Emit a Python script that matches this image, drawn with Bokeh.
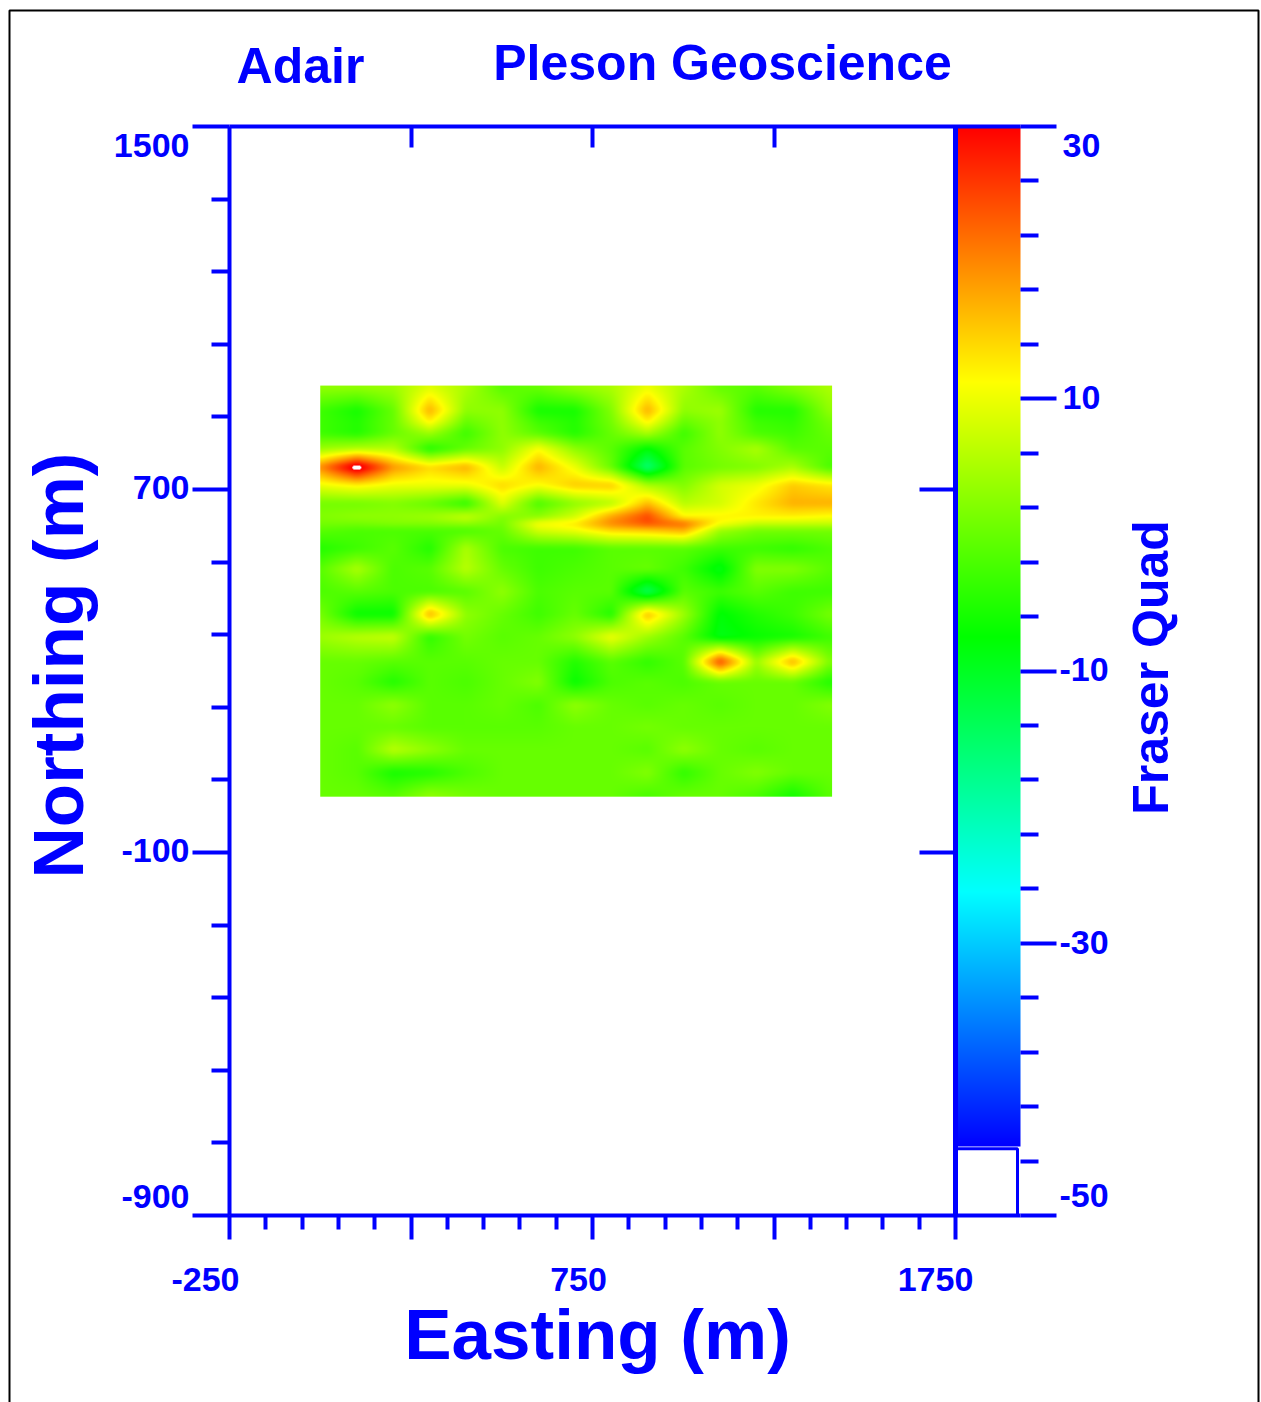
import numpy as np
from bokeh.embed import file_html
from bokeh.resources import INLINE
from bokeh.plotting import figure
from bokeh.models import (LinearAxis, FixedTicker, Range1d, LinearColorMapper, Label,
                          PolyAnnotation)

# ---------- data ----------
title_left = "Adair"
title_right = "Pleson Geoscience"
x_title = "Easting (m)"
y_title = "Northing (m)"
scale_title = "Fraser Quad"

x_major = [-250, 250, 750, 1250, 1750]
x_minor = [-150, -50, 50, 150, 350, 450, 550, 650, 850, 950, 1050, 1150, 1350, 1450, 1550, 1650]
y_major = [1500, 700, -100, -900]
y_minor = [1340, 1180, 1020, 860, 540, 380, 220, 60, -260, -420, -580, -740]
z_major = [30, 10, -10, -30, -50]
z_minor = [26, 22, 18, 14, 6, 2, -2, -6, -14, -18, -22, -26, -34, -38, -42, -46]

x_labels = ["-250", "750", "1750"]
y_labels = ["1500", "700", "-100", "-900"]
z_labels = ["30", "10", "-10", "-30", "-50"]

easting = [0, 100, 200, 300, 400, 500, 600, 700, 800, 900, 1000, 1100, 1200, 1300, 1400]
northing = [925, 875, 850, 825, 790, 750, 710, 670, 640, 625, 610, 570, 525, 475, 425, 375, 320, 275, 225, 175, 125, 75, 25]
fraser = [
    [3, 3, 4, 9, 5, -1, 0, 3, 5, 10, 5, 0, -1, 2, 5],
    [-3, -6, 0, 17, 3, 3, -6, -6, 2, 17, 3, 4, -5, -5, 3],
    [-3, -5, 0, 12, 0, 3, -3, -5, 1, 12, 0, 3, -3, -4, 1],
    [-3, -5, 0, 4, -3, 3, -1, -5, 0, 5, -3, 3, -2, -3, 0],
    [4, 6, 6, -5, 0, 3, 11, 3, -1, -8, -1, 2, 5, -1, -1],
    [20, 34, 19, 14, 17, 7, 17, 10, 0, -16, -1, 1, 2, 5, -2],
    [10, 12, 10, 10, 10, 14, 11, 15, 15, 5, 2, 8, 10, 15, 13],
    [1, 1, 2, 0, -4, 9, -2, 3, 6, 16, 6, 8, 13, 17, 17],
    [2, 3, 3, 4, 7, 2, 3, 8, 18, 25, 12, 12, 12, 12, 11],
    [1, 1, 2, 2, 3, 1, 11, 13, 20, 24, 22, 11, 7, 7, 7],
    [-1, -2, -2, -2, -2, 0, 8, 10, 14, 15, 17, 4, 1, 1, 1],
    [-5, -3, -1, -5, 5, -2, -3, -3, -1, -1, -1, -3, -3, -4, -2],
    [-1, 5, -2, -1, 6, 0, -3, -2, -1, 0, -3, -9, 2, 2, -1],
    [-2, -1, -2, -2, -1, 3, -2, -1, -1, -14, -1, -3, -1, -3, -3],
    [1, -7, -7, 17, 3, 0, -3, 0, -5, 16, 4, -8, -5, -3, 1],
    [4, 6, 7, -4, 1, -1, 0, 3, 10, 4, -1, -9, -7, -6, -3],
    [0, 0, -1, -1, -1, 0, 0, -5, -1, -4, -1, 25, 4, 17, 2],
    [0, -1, -5, -1, -2, 0, 2, -7, -2, -1, -2, 0, 0, 0, -5],
    [0, 0, 3, -1, -1, 0, -2, 3, 0, -1, 0, -1, 0, 0, 2],
    [0, 0, 0, -1, -1, -1, -1, 0, 0, 1, 0, 0, 0, 0, 0],
    [0, -1, 6, 3, 0, 0, 0, 0, 0, -1, 3, 0, -1, 0, 0],
    [0, -1, -6, -5, -2, 0, 0, 0, 0, 2, -4, 0, 2, 0, 0],
    [0, 0, -1, 3, 1, 0, 0, 0, 0, -2, 0, 0, -2, -6, -1],
]

ramp_colors = [(255, 0, 0), (255, 255, 0), (0, 255, 0), (0, 255, 255), (0, 0, 255)]
z_low, z_high = -45, 30

# ---------- styling ----------
BLUE = "#0000ff"
FONT = "Liberation Sans"

# the frame fills the page; these are the plot's box edges on the page (pixels)
W, H = 1261, 1402
FL, FR, FT, FB = 229, 1020, 126, 1215

def dx(px):
    return -250 + (px - FL) * 2000 / 726
def dy(py):
    return 1500 - (py - FT) * 2400 / (FB - FT)
def dz(py):
    return 30 - (py - FT) * 80 / (FB - FT)

x_end = dx(FR)

p = figure(width=W, height=H, output_backend="svg", toolbar_location=None,
           x_range=Range1d(dx(0), dx(W)), y_range=Range1d(dy(H), dy(0)),
           min_border=0, x_axis_type=None, y_axis_type=None,
           outline_line_color=None, background_fill_color="white")
p.grid.visible = False
p.extra_y_ranges = {"scale": Range1d(dz(H), dz(0))}

# palette
stops = np.linspace(0, 1, len(ramp_colors))
t = np.linspace(0, 1, 1021)
rgb = np.array(ramp_colors, dtype=float)
chan = [np.interp(t, stops, rgb[:, i]) for i in range(3)]
palette = ["#%02x%02x%02x" % (int(round(chan[0][i])), int(round(chan[1][i])), int(round(chan[2][i])))
           for i in range(len(t))][::-1]
mapper = LinearColorMapper(palette=palette, low=z_low, high=z_high, low_color="white", high_color="white")

# grid drawn through an image: smooth resampling of the values that were read
arr = np.array(fraser, dtype=float)
ex0, ex1, ny0, ny1 = 0, 1410, 23, 929
nx, ny = 512, 411
xs = np.linspace(ex0, ex1, nx)
ys = np.linspace(ny0, ny1, ny)
north = np.array(northing, dtype=float)
east = np.array(easting, dtype=float)
by_col = np.array([np.interp(ys, north[::-1], arr[::-1, j]) for j in range(arr.shape[1])]).T
img = np.array([np.interp(xs, east, by_col[i]) for i in range(ny)])
def blur(a, n):
    k = np.ones(2 * n + 1) / (2 * n + 1)
    pad = np.pad(a, n, mode="edge")
    pad = np.apply_along_axis(lambda r: np.convolve(r, k, mode="valid"), 1, pad)
    pad = np.apply_along_axis(lambda r: np.convolve(r, k, mode="valid"), 0, pad)
    return pad
img = blur(img, 3)
p.image(image=[img], x=ex0, y=ny0, dw=ex1 - ex0, dh=ny1 - ny0, color_mapper=mapper)

# colour ramp
ramp = np.linspace(-50, 29.99, 1089).reshape(-1, 1)
ramp_x0 = dx(957)
p.image(image=[ramp], x=ramp_x0, y=-50, dw=x_end - ramp_x0, dh=80, color_mapper=mapper, y_range_name="scale")
p.quad(left=[dx(956)], right=[dx(1017)], bottom=[-50], top=[-45.1], fill_color="white",
       line_color=BLUE, line_width=3, y_range_name="scale")

def style(ax, major, minor, tin=0, tout=0, mout=0, line=True):
    ax.ticker = FixedTicker(ticks=major, minor_ticks=minor)
    ax.major_label_text_color = None
    ax.major_label_text_font_size = "1px"
    ax.major_tick_line_color = BLUE
    ax.minor_tick_line_color = BLUE
    ax.major_tick_line_width = 4
    ax.minor_tick_line_width = 4
    ax.major_tick_in = tin
    ax.major_tick_out = tout
    ax.minor_tick_in = 0
    ax.minor_tick_out = mout
    ax.axis_line_color = BLUE if line else None
    ax.axis_line_width = 4

y_bounds = (-900, 1500)
x_bounds = (-250, x_end)

left = LinearAxis(fixed_location=-250, bounds=y_bounds)
style(left, y_major, y_minor, tout=37, mout=18)
p.add_layout(left, "left")

bottom = LinearAxis(fixed_location=-900, bounds=x_bounds)
style(bottom, x_major, x_minor, tout=24, mout=14)
p.add_layout(bottom, "below")

top = LinearAxis(fixed_location=1500, bounds=x_bounds)
style(top, x_major[1:-1], [], tin=21)
p.add_layout(top, "above")

mid = LinearAxis(fixed_location=1750, bounds=y_bounds)
style(mid, y_major[1:-1], [], tin=36)
mid.axis_line_width = 5
p.add_layout(mid, "right")

colour_axis = LinearAxis(y_range_name="scale", fixed_location=x_end, bounds=(-50, 30))
style(colour_axis, z_major, z_minor, tout=36, mout=18, line=False)
p.add_layout(colour_axis, "right")

def text(s, px, py, size, align="center", baseline="middle", angle=0.0):
    p.add_layout(Label(x=dx(px), y=dy(py), text=s,
                       text_font=FONT, text_font_style="bold", text_color=BLUE,
                       text_font_size=f"{size}px", text_align=align, text_baseline=baseline,
                       angle=angle))

text(title_left, 300, 65, 50)
text(title_right, 722, 62, 50)
text(x_title, 597, 1334, 71)
text(y_title, 58, 665, 71, angle=np.pi / 2)
text(scale_title, 1150, 667, 50, angle=np.pi / 2)

for s, px in zip(x_labels, [205, 578, 935]):
    text(s, px, 1279, 34)
for s, py in zip(y_labels, [145, 487, 850, 1196]):
    text(s, 189, py, 34, align="right")
for s, py in zip(z_labels, [145, 397, 669, 942, 1195]):
    text(s, 1059 if s.startswith("-") else 1062, py, 34, align="left")

fx = [dx(9), dx(1258), dx(1258), dx(9), dx(9)]
fy = [dy(10), dy(10), dy(1450), dy(1450), dy(10)]
p.add_layout(PolyAnnotation(xs=fx, ys=fy, fill_alpha=0, line_color="#000000", line_alpha=1, line_width=2))

open("out.html", "w").write(file_html(p, INLINE))
